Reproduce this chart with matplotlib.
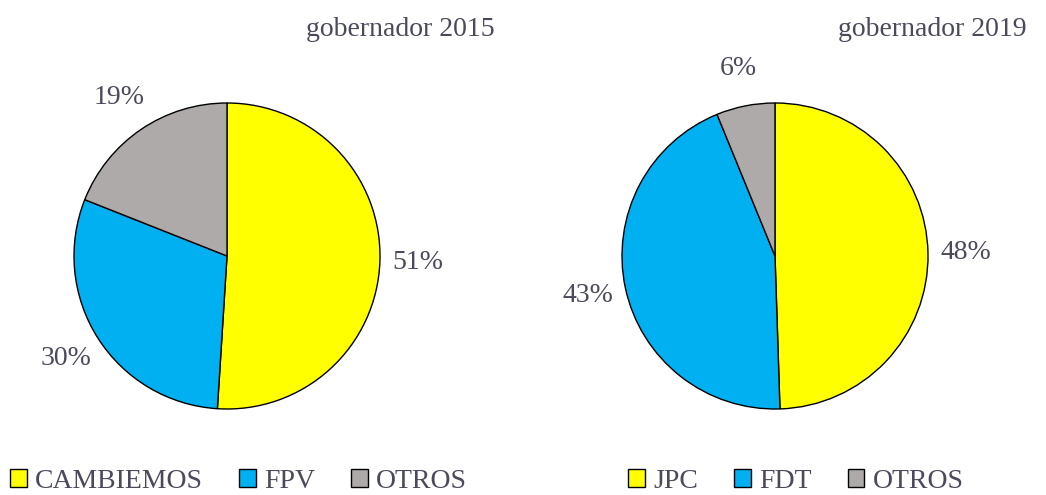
import matplotlib.pyplot as plt
from matplotlib.patches import Patch

# datos
partidos_2015 = ["CAMBIEMOS", "FPV", "OTROS"]
votos_2015 = [51, 30, 19]
partidos_2019 = ["JPC", "FDT", "OTROS"]
votos_2019 = [48, 43, 6]

colores = ["#FFFF00", "#00B0F0", "#AEAAAA"]
txt = "#4a4a5a"

plt.rcParams["font.family"] = ["Liberation Serif", "DejaVu Serif"]

W, H = 1046, 495
fig = plt.figure(figsize=(W / 100, H / 100), dpi=100)

R = 153


def pie_ax(cx, cy):
    return fig.add_axes([(cx - R) / W, (H - cy - R) / H, 2 * R / W, 2 * R / H])


def dibujar(ax, vals, titulo, tx):
    ax.pie(vals, colors=colores, startangle=90, counterclock=False,
           labels=[f"{v}%" for v in vals], labeldistance=1.25,
           wedgeprops=dict(edgecolor="black", linewidth=1),
           textprops=dict(color=txt, fontsize=20, ha="center", va="center"))
    ax.set_xlim(-1, 1)
    ax.set_ylim(-1, 1)
    fig.text(tx / W, 1 - 30 / H, titulo, ha="center", va="center",
             fontsize=20, color=txt)


ax1 = pie_ax(227, 256)
dibujar(ax1, votos_2015, "gobernador 2015", 400)
ax2 = pie_ax(775, 256)
dibujar(ax2, votos_2019, "gobernador 2019", 932)


def leyenda(nombres, x):
    handles = [Patch(facecolor=c, edgecolor="black", linewidth=1) for c in colores]
    fig.legend(handles, nombres, loc="center left", bbox_to_anchor=(x / W, 1 - 481 / H),
               ncol=3, frameon=False, fontsize=20, handlelength=0.6, handleheight=0.6,
               handletextpad=0.3, columnspacing=1.3, borderaxespad=0, borderpad=0,
               labelcolor=txt)


leyenda(partidos_2015, 10)
leyenda(partidos_2019, 628)

fig.savefig("out.png", dpi=100)
